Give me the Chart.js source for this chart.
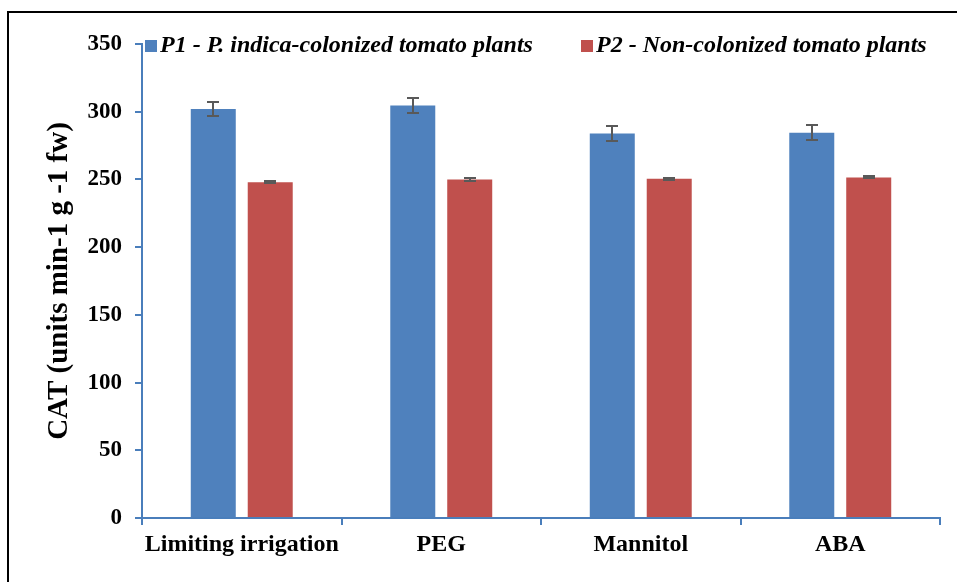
<!DOCTYPE html>
<html>
<head>
<meta charset="utf-8">
<script src="https://cdn.jsdelivr.net/npm/chart.js@4.4.1/dist/chart.umd.min.js"></script>
<style>
  html, body { margin: 0; padding: 0; background: #fff; }
  #wrap { position: relative; width: 957px; height: 582px; overflow: hidden; }
  #frame { position: absolute; left: 7px; top: 11px; width: 1000px; height: 1000px; border: 2px solid #000; box-sizing: border-box; pointer-events: none; }
  canvas { position: absolute; left: 0; top: 0; }
</style>
</head>
<body>
<div id="wrap">
  <canvas id="c" width="957" height="582"></canvas>
  <div id="frame"></div>
</div>
<script>
const categories = ["Limiting irrigation", "PEG", "Mannitol", "ABA"];
const seriesNames = ["P1 - P. indica-colonized tomato plants", "P2 - Non-colonized tomato plants"];
const p1Values = [302, 304.5, 284, 284.5];
const p1Errors = [5.5, 5.5, 5.5, 5.5];
const p2Values = [248, 250, 250.5, 251.5];
const p2Errors = [0.8, 0.8, 0.8, 0.8];
const yTicks = [0, 50, 100, 150, 200, 250, 300, 350];
const yTitle = "CAT (units min-1 g -1 fw)";

const SERIF = "'Liberation Serif', 'Times New Roman', serif";
const AXIS_COLOR = "#4a7ebb";
const colors = ["#4F81BD", "#C0504D"];
const errorSets = [p1Errors, p2Errors];

const errorBarPlugin = {
  id: 'errorBars',
  afterDatasetsDraw(chart) {
    const ctx = chart.ctx;
    const y = chart.scales.y;
    ctx.save();
    ctx.strokeStyle = '#595959';
    ctx.lineWidth = 2;
    chart.data.datasets.forEach((ds, di) => {
      const meta = chart.getDatasetMeta(di);
      meta.data.forEach((el, i) => {
        const v = ds.data[i];
        const e = errorSets[di][i];
        const yTop = Math.round(y.getPixelForValue(v + e));
        const yBot = Math.round(y.getPixelForValue(v - e));
        const x = Math.round(el.x);
        ctx.beginPath();
        ctx.moveTo(x, yTop); ctx.lineTo(x, yBot);
        ctx.moveTo(x - 6, yTop); ctx.lineTo(x + 6, yTop);
        ctx.moveTo(x - 6, yBot); ctx.lineTo(x + 6, yBot);
        ctx.stroke();
      });
    });
    ctx.restore();
  }
};

const legendPlugin = {
  id: 'insideLegend',
  afterDraw(chart) {
    const ctx = chart.ctx;
    const starts = [145, 581];
    ctx.save();
    ctx.font = "italic bold 24px " + SERIF;
    ctx.textBaseline = 'middle';
    ctx.textAlign = 'left';
    chart.data.datasets.forEach((ds, i) => {
      const x = starts[i];
      const yc = 46;
      ctx.fillStyle = ds.backgroundColor;
      ctx.fillRect(x, yc - 6, 12, 12);
      ctx.fillStyle = '#000';
      ctx.fillText(ds.label, x + 15, yc);
    });
    ctx.restore();
  }
};

new Chart(document.getElementById('c'), {
  type: 'bar',
  data: {
    labels: categories,
    datasets: [
      { label: seriesNames[0], data: p1Values, backgroundColor: colors[0], borderWidth: 0 },
      { label: seriesNames[1], data: p2Values, backgroundColor: colors[1], borderWidth: 0 }
    ]
  },
  options: {
    responsive: false,
    animation: false,
    devicePixelRatio: 1,
    layout: { padding: { left: 0, right: 17, top: 44, bottom: 0 } },
    categoryPercentage: 0.571,
    barPercentage: 0.79,
    plugins: { legend: { display: false }, tooltip: { enabled: false } },
    scales: {
      x: {
        grid: { display: true, offset: true, drawOnChartArea: false, color: AXIS_COLOR, tickLength: 7, lineWidth: 2 },
        border: { display: true, color: AXIS_COLOR, width: 2 },
        ticks: { color: '#000', font: { family: SERIF, size: 24, weight: 'bold' }, padding: 5, maxRotation: 0 },
        afterFit(scale) { scale.height = 64; }
      },
      y: {
        min: 0, max: 350,
        afterBuildTicks(scale) { scale.ticks = yTicks.map(v => ({ value: v })); },
        grid: { display: true, drawOnChartArea: false, color: AXIS_COLOR, tickLength: 7, lineWidth: 2 },
        border: { display: true, color: AXIS_COLOR, width: 2 },
        ticks: { color: '#000', font: { family: SERIF, size: 23, weight: 'bold' }, padding: 13 },
        title: { display: true, text: yTitle, color: '#000', font: { family: SERIF, size: 29, weight: 'bold' }, padding: { top: 42, bottom: 0 } },
        afterFit(scale) { scale.width = 142; }
      }
    }
  },
  plugins: [errorBarPlugin, legendPlugin]
});
</script>
</body>
</html>
